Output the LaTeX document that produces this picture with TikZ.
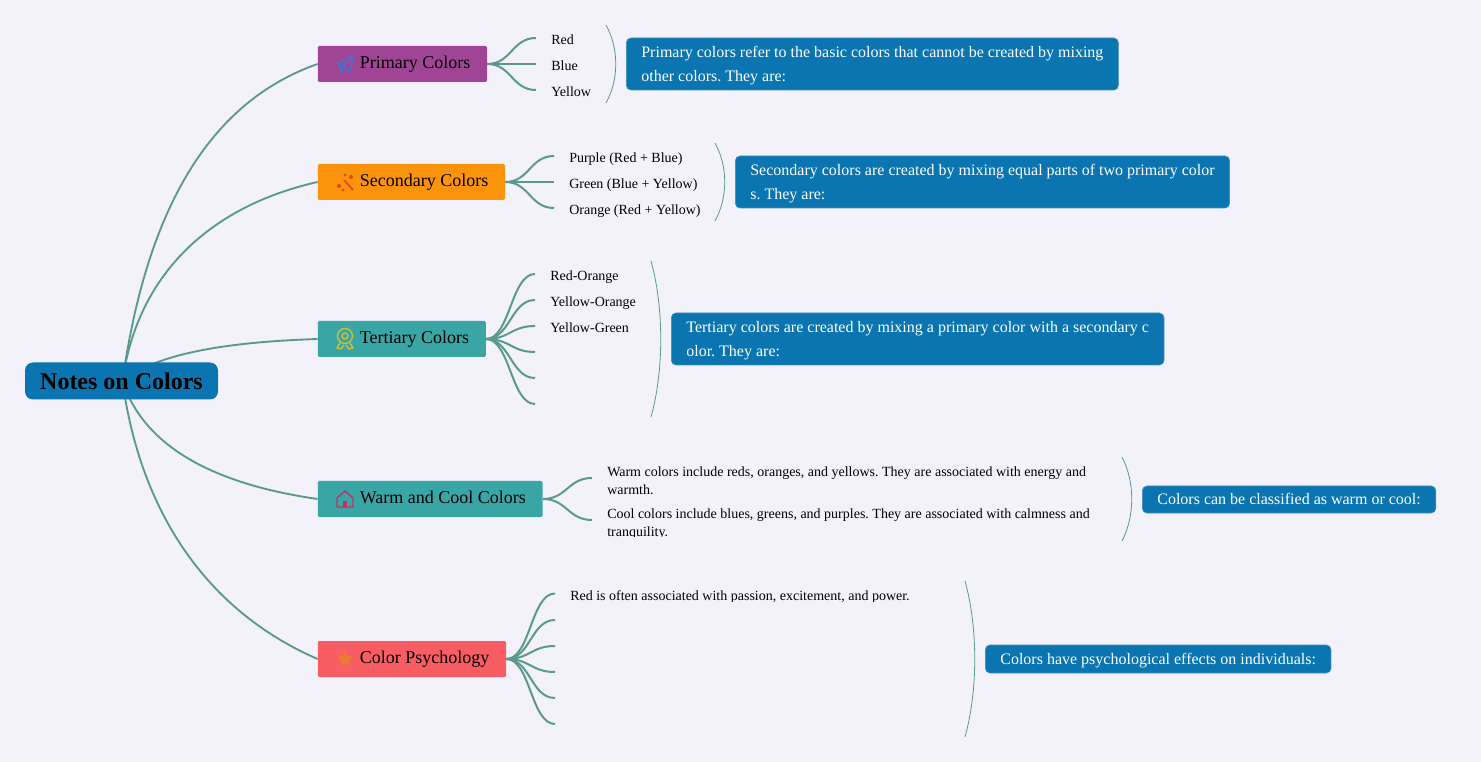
\documentclass[tikz,border=0pt]{standalone}
\usepackage{fontspec}
\setmainfont{Liberation Serif}
\usetikzlibrary{shapes.geometric,positioning,backgrounds}
\definecolor{notesbg}{HTML}{F3F2FA}
\definecolor{notesblue}{HTML}{0A75B0}
\definecolor{notesedge}{HTML}{3F8FB8}
\definecolor{noteslink}{HTML}{5A9A8C}
\definecolor{notespurple}{HTML}{A04595}
\definecolor{notesorange}{HTML}{FB930D}
\definecolor{notesteal}{HTML}{39A5A5}
\definecolor{notesred}{HTML}{F85D63}
\definecolor{iconplane}{HTML}{4474C8}
\definecolor{iconwand}{HTML}{E4481C}
\definecolor{iconmedal}{HTML}{D8C030}
\definecolor{iconhouse}{HTML}{C2305F}
\definecolor{iconstar}{HTML}{EC7A34}
\newcommand{\iconspace}{\hspace*{19pt}}
\tikzstyle{rootbox} = [fill=notesblue, rounded corners=6pt, text=black, font=\fontsize{18}{22}\selectfont\bfseries, minimum width=144.75pt, minimum height=27.75pt, inner sep=0pt]
\tikzstyle{topic} = [anchor=west, rounded corners=1pt, text=black, font=\fontsize{13.5}{16}\selectfont, minimum height=27pt, text height=10pt, text depth=3pt, inner xsep=12.5pt, inner ysep=0pt]
\tikzstyle{leaf} = [anchor=west, text=black, font=\fontsize{10.5}{13.5}\selectfont, text height=12.5pt, text depth=2.5pt, inner xsep=11.25pt, inner ysep=0pt]
\tikzstyle{leafwrap} = [leaf, align=left, text height=25pt, text depth=0pt]
\tikzstyle{callout} = [anchor=west, fill=notesblue, draw=notesedge, line width=0.5pt, rounded corners=3.5pt, text=white, align=left, font=\fontsize{12}{18}\selectfont, text depth=0.4pt, inner xsep=11.25pt, inner ysep=1.5pt]
\tikzstyle{link} = [noteslink, line width=1.4pt]
\tikzstyle{sublink} = [noteslink, line width=1.5pt]
\tikzstyle{brace} = [noteslink, line width=0.6pt]
\begin{document}
\frenchspacing
\begin{tikzpicture}[x=0.75pt,y=-0.75pt]
\useasboundingbox (0,0) rectangle (1481,762);

% main nodes
\node[rootbox] (root) at (121.5,381) {Notes on Colors};
\coordinate (hub) at (122.5,381);
\node[topic, fill=notespurple] (primary) at (317.6,64) {\iconspace Primary Colors};
\node[topic, fill=notesorange] (secondary) at (317.6,182) {\iconspace Secondary Colors};
\node[topic, fill=notesteal] (tertiary) at (317.6,339) {\iconspace Tertiary Colors};
\node[topic, fill=notesteal] (warmcool) at (317.6,499) {\iconspace Warm and Cool Colors};
\node[topic, fill=notesred] (psychology) at (317.6,659) {\iconspace Color Psychology};

% leaves
\node[leaf] (red) at (536,38) {Red};
\node[leaf] (blue) at (536,64) {Blue};
\node[leaf] (yellow) at (536,90) {Yellow};
\node[leaf] (purple) at (554,156) {Purple (Red + Blue)};
\node[leaf] (green) at (554,182) {Green (Blue + Yellow)};
\node[leaf] (orange) at (554,208) {Orange (Red + Yellow)};
\node[leaf] (redorange) at (535,274) {Red-Orange};
\node[leaf] (yelloworange) at (535,300) {Yellow-Orange};
\node[leaf] (yellowgreen) at (535,326) {Yellow-Green};
\coordinate (tertfour) at (535,352);
\coordinate (tertfive) at (535,378);
\coordinate (tertsix) at (535,404);
\begin{scope}
\clip (590,455) rectangle (1110,536);
\node[leafwrap] (warm) at (592,478) {Warm colors include reds, oranges, and yellows. They are associated with energy and\\warmth.};
\node[leafwrap] (cool) at (592,520) {Cool colors include blues, greens, and purples. They are associated with calmness and\\tranquility.};
\end{scope}
\begin{scope}
\clip (550,580) rectangle (960,601.5);
\node[leaf] (passion) at (555,593.5) {Red is often associated with passion, excitement, and power.};
\end{scope}
\coordinate (psytwo) at (555,620);
\coordinate (psythree) at (555,646);
\coordinate (psyfour) at (555,672);
\coordinate (psyfive) at (555,698);
\coordinate (psysix) at (555,724);

% callouts
\node[callout, minimum height=39pt] (primarynote) at (626,64) {Primary colors refer to the basic colors that cannot be created by mixing\\other colors. They are:};
\node[callout, minimum height=39pt] (secondarynote) at (735,182) {Secondary colors are created by mixing equal parts of two primary color\\s. They are:};
\node[callout, minimum height=39pt] (tertiarynote) at (671,339) {Tertiary colors are created by mixing a primary color with a secondary c\\olor. They are:};
\node[callout, minimum height=20.25pt] (warmnote) at (1142,499.5) {Colors can be classified as warm or cool:};
\node[callout, minimum height=21pt] (psychologynote) at (985,659) {Colors have psychological effects on individuals:};

% braces
\foreach \x/\top/\bot in {606/25/103,715/143/221,651/261/417,1122/457/541,965/581/737}{
  \draw[brace] (\x,\top) .. controls (\x+13,\top+0.3*\bot-0.3*\top) and (\x+13,\top+0.7*\bot-0.7*\top) .. (\x,\bot);
}

% connectors
\begin{scope}[on background layer]
\fill[notesbg] (0,0) rectangle (1481,762);
\draw[link] (hub) .. controls (148,200) and (215,100) .. (primary.west);
\draw[link] (hub) .. controls (138,270) and (215,205) .. (secondary.west);
\draw[link] (hub) .. controls (156,354) and (225,342) .. (tertiary.west);
\draw[link] (hub) .. controls (145,450) and (220,485) .. (warmcool.west);
\draw[link] (hub) .. controls (140,510) and (205,610) .. (psychology.west);
\foreach \from/\to in {primary/red,primary/blue,primary/yellow,secondary/purple,secondary/green,secondary/orange,warmcool/warm,warmcool/cool}{
  \draw[sublink] (\from.east) .. controls +(24,0) and +(-24,0) .. (\to.west);
}
\foreach \to in {redorange,yelloworange,yellowgreen}{
  \draw[sublink] (tertiary.east) .. controls +(24,0) and +(-24,0) .. (\to.west);
}
\foreach \to in {tertfour,tertfive,tertsix}{
  \draw[sublink] (tertiary.east) .. controls +(24,0) and +(-24,0) .. (\to);
}
\draw[sublink] (psychology.east) .. controls +(24,0) and +(-24,0) .. (passion.west);
\foreach \to in {psytwo,psythree,psyfour,psyfive,psysix}{
  \draw[sublink] (psychology.east) .. controls +(24,0) and +(-24,0) .. (\to);
}
\end{scope}

% icons
\draw[iconplane, line width=1pt, line join=round] (353,56) -- (338,63) -- (343,66) -- (353,56) -- (350,72) -- (343,66) -- (342,72) -- (338,63);
\draw[iconwand, line width=1.3pt] (353,190) -- (344,180);
\fill[iconwand] (339,186) circle (2) (343,190) circle (1.6) (345,175) circle (1.6) (351,177) circle (2);
\draw[iconmedal, line width=1pt] (345,336) circle (7.5) (345,336) circle (3);
\draw[iconmedal, line width=1pt, line join=round] (340,343) -- (337,348) -- (341,349) -- (344,345) (350,343) -- (353,348) -- (349,349) -- (346,345);
\draw[iconhouse, line width=1pt, line join=round] (337,507) -- (337,498) -- (345,491) -- (353,498) -- (353,507) -- cycle;
\fill[iconhouse] (343,507) rectangle (347,501);
\node[star, star points=5, star point ratio=2.2, fill=iconstar, inner sep=0pt, minimum size=13pt] (staricon) at (345,659) {};
\end{tikzpicture}
\end{document}
